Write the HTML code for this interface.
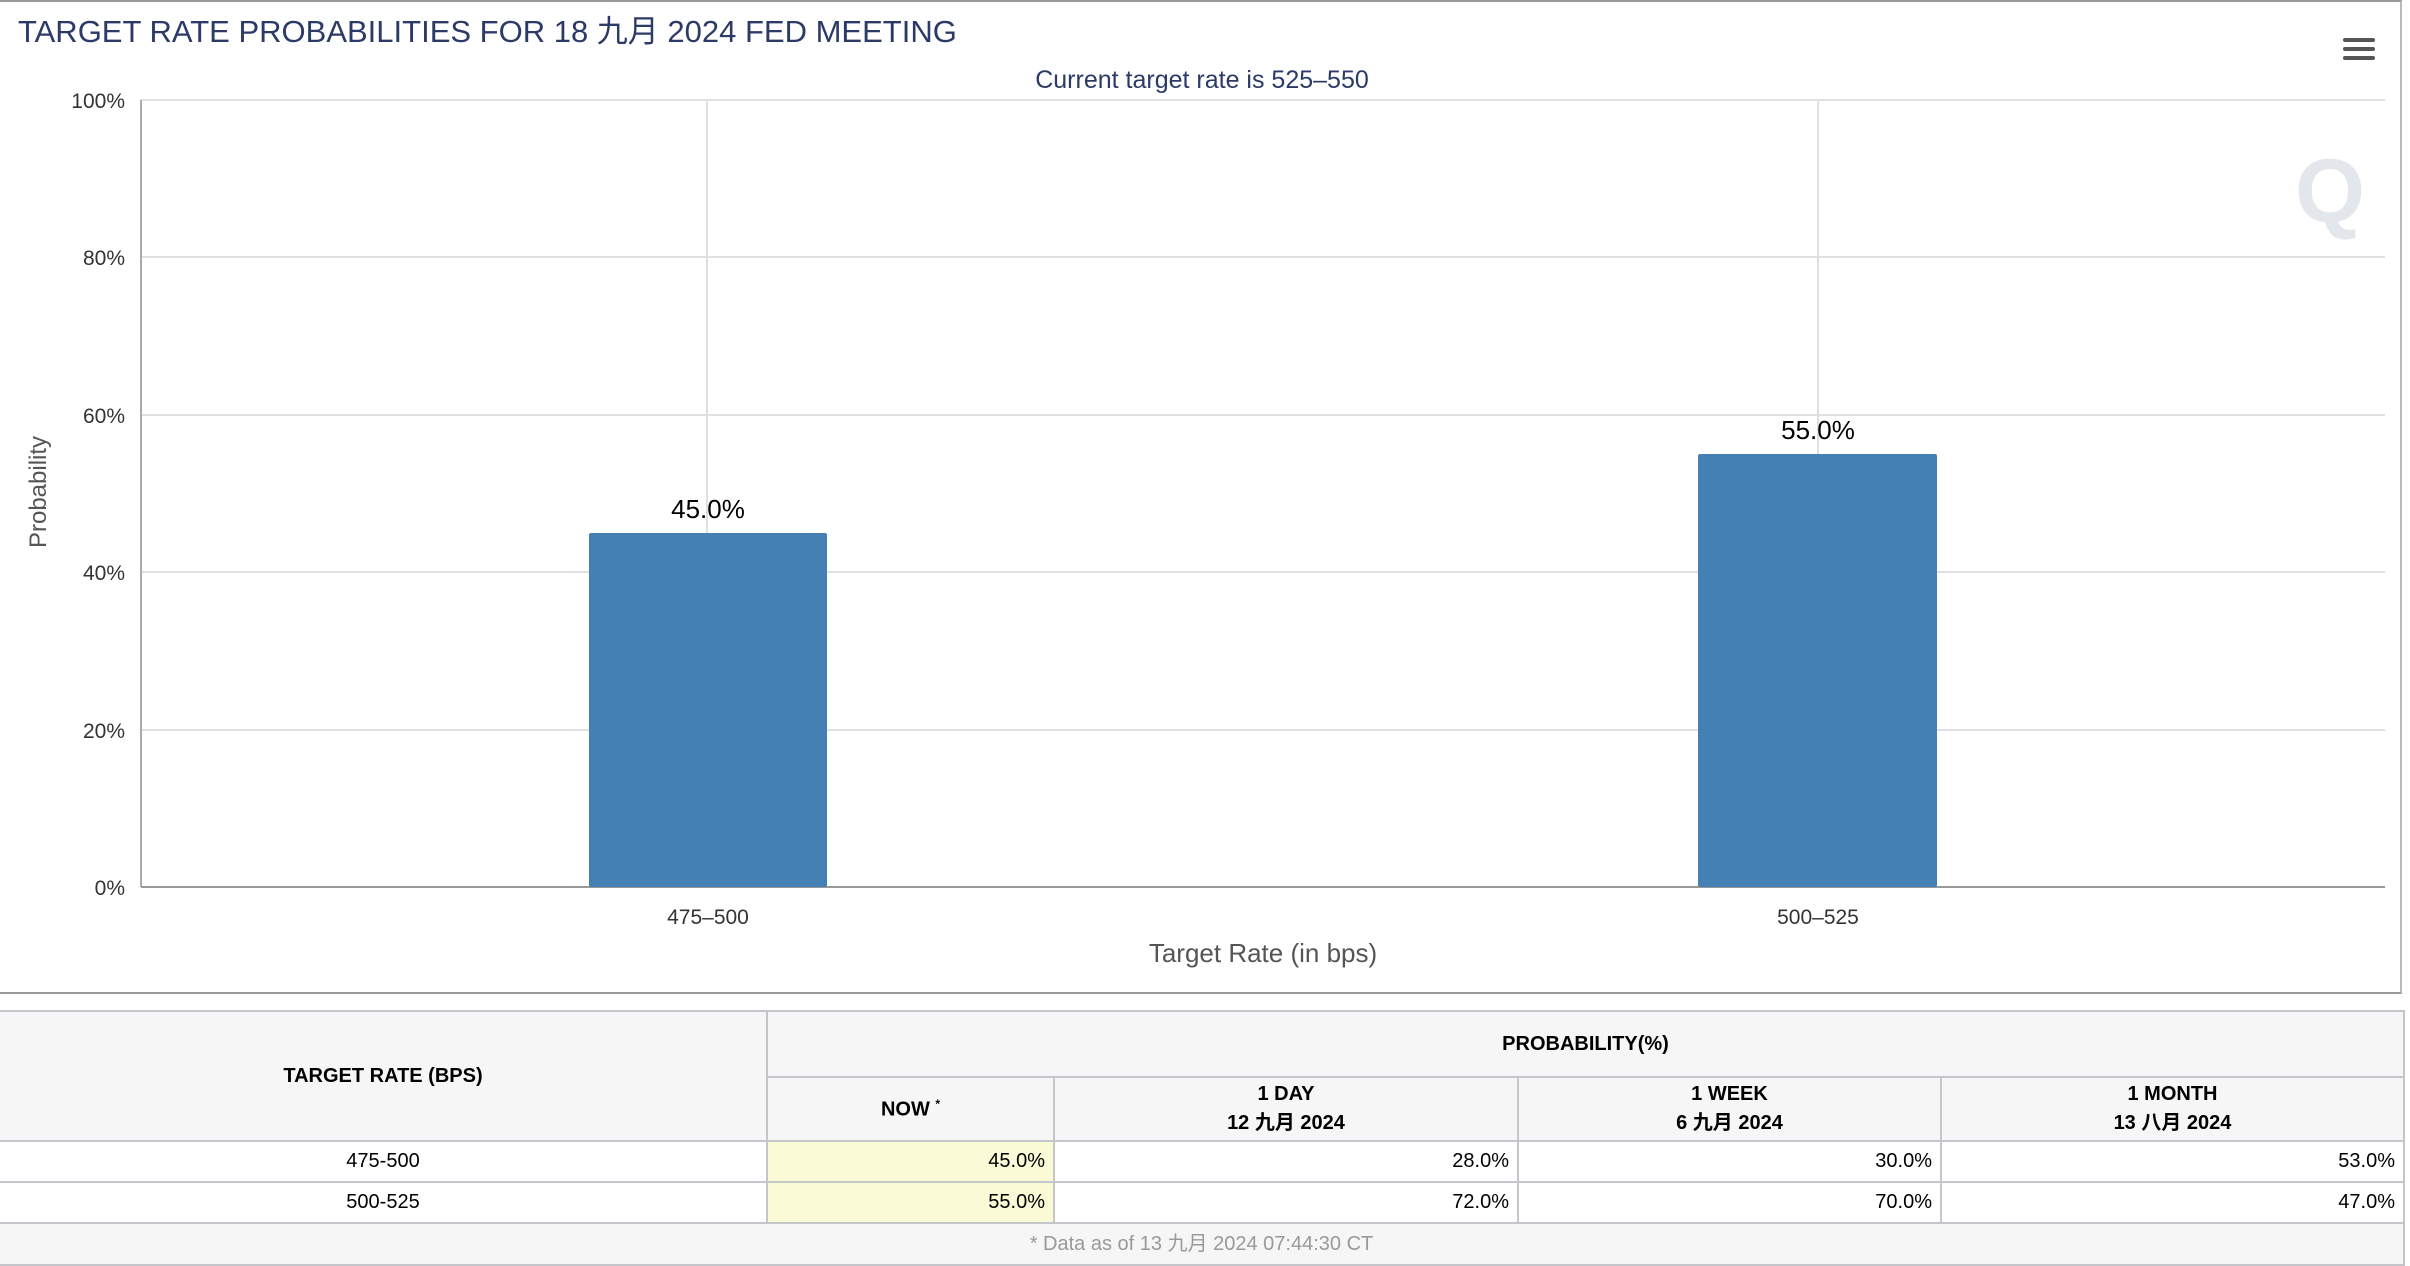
<!DOCTYPE html>
<html><head><meta charset="utf-8"><style>
body{margin:0;width:2410px;height:1264px;background:#fff;position:relative;overflow:hidden;font-family:"Liberation Sans","Noto Sans CJK SC",sans-serif}
#chart{position:absolute;left:0;top:0;width:2402px;height:994px;border-right:2px solid #bbb;border-bottom:2px solid #999;border-top:2px solid #999;box-sizing:border-box}
table{position:absolute;left:0;top:1010px;width:2405px;border-collapse:collapse;font-size:20px;color:#000}
td,th{border:2px solid #c4c6cc;padding:0 8px;box-sizing:border-box}
tr > :first-child{border-left:none}
th{background:#f6f6f6;font-weight:bold;text-align:center}
td.c{text-align:center}
td.r{text-align:right}
td.y{background:#fafad6}
</style></head><body>
<div id="chart"></div>
<svg width="2410" height="1000" style="position:absolute;left:0;top:0" font-family="Liberation Sans, DejaVu Sans, Noto Sans CJK SC, sans-serif">
<text x="18" y="42" font-size="31" fill="#2b3a67">TARGET RATE PROBABILITIES FOR 18 九月 2024 FED MEETING</text>
<text x="1202" y="88" font-size="25" fill="#2b3a67" text-anchor="middle">Current target rate is 525–550</text>
<g stroke="#e0e0e0" stroke-width="2">
<line x1="141" y1="100" x2="2385" y2="100"/><line x1="141" y1="257" x2="2385" y2="257"/>
<line x1="141" y1="415" x2="2385" y2="415"/><line x1="141" y1="572" x2="2385" y2="572"/>
<line x1="141" y1="730" x2="2385" y2="730"/>
<line x1="707" y1="100" x2="707" y2="887"/><line x1="1818" y1="100" x2="1818" y2="887"/>
</g>
<line x1="141" y1="100" x2="141" y2="887" stroke="#aaa" stroke-width="2"/>
<line x1="141" y1="887" x2="2385" y2="887" stroke="#999" stroke-width="2"/>
<g font-size="21" fill="#333" text-anchor="end">
<text x="125" y="108">100%</text><text x="125" y="265">80%</text><text x="125" y="423">60%</text>
<text x="125" y="580">40%</text><text x="125" y="738">20%</text><text x="125" y="895">0%</text>
</g>
<rect x="589" y="533" width="238" height="354" fill="#4480b4" rx="2"/>
<rect x="1698" y="454" width="239" height="433" fill="#4480b4" rx="2"/>
<g font-size="26" fill="#000" text-anchor="middle">
<text x="708" y="518">45.0%</text><text x="1818" y="439">55.0%</text>
</g>
<g font-size="21" fill="#333" text-anchor="middle">
<text x="708" y="924">475–500</text><text x="1818" y="924">500–525</text>
</g>
<text x="1263" y="962" font-size="26" fill="#555" text-anchor="middle">Target Rate (in bps)</text>
<text transform="translate(46,492) rotate(-90)" font-size="24" fill="#555" text-anchor="middle">Probability</text>
<g fill="#555"><rect x="2343" y="38" width="32" height="4" rx="2"/><rect x="2343" y="47" width="32" height="4" rx="2"/><rect x="2343" y="56" width="32" height="4" rx="2"/></g>
<text x="2330" y="222" font-size="90" font-weight="bold" fill="#e3e7ec" text-anchor="middle">Q</text>
</svg>
<table>
<tr style="height:66px"><th rowspan="2" style="width:767px">TARGET RATE (BPS)</th><th colspan="4">PROBABILITY(%)</th></tr>
<tr style="height:64px"><th style="width:287px">NOW <sup style="font-size:12px">*</sup></th><th style="width:464px">1 DAY<br>12 九月 2024</th><th style="width:423px">1 WEEK<br>6 九月 2024</th><th>1 MONTH<br>13 八月 2024</th></tr>
<tr style="height:41px"><td class="c">475-500</td><td class="r y">45.0%</td><td class="r">28.0%</td><td class="r">30.0%</td><td class="r">53.0%</td></tr>
<tr style="height:41px"><td class="c">500-525</td><td class="r y">55.0%</td><td class="r">72.0%</td><td class="r">70.0%</td><td class="r">47.0%</td></tr>
<tr style="height:42px"><td colspan="5" class="c" style="background:#f6f6f6;color:#999;padding-bottom:6px">* Data as of 13 九月 2024 07:44:30 CT</td></tr>
</table>
</body></html>
